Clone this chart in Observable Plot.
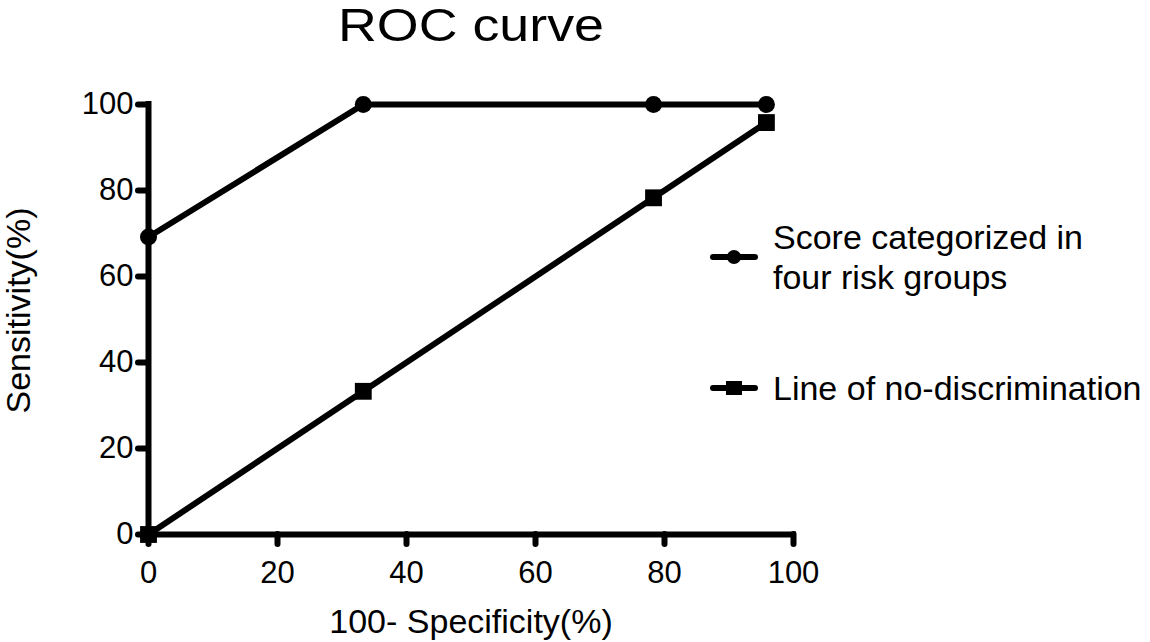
<!DOCTYPE html>
<html>
<head>
<meta charset="utf-8">
<script src="https://cdn.jsdelivr.net/npm/d3@7"></script>
<script src="https://cdn.jsdelivr.net/npm/@observablehq/plot@0.6"></script>
<style>
  body { margin: 0; background: #fff; }
  #chart { width: 1150px; height: 642px; }
</style>
</head>
<body>
<div id="chart"></div>
<script>
// ---- data ----
const oneMinusSpecificity = [0, 33.3, 78.3, 95.8];   // 100 - Specificity (%)
const rocSensitivity = [69.2, 100, 100, 100];         // Score categorized in four risk groups
const diagonalSensitivity = [0, 33.3, 78.3, 95.8];    // Line of no-discrimination
const xTicks = [0, 20, 40, 60, 80, 100];
const yTicks = [0, 20, 40, 60, 80, 100];
const seriesNames = [["Score categorized in", "four risk groups"], ["Line of no-discrimination"]];
const seriesSymbols = ["circle", "square"];
const titleText = "ROC curve";
const xLabelText = "100- Specificity(%)";
const yLabelText = "Sensitivity(%)";

// ---- tables ----
const roc = oneMinusSpecificity.map((x, i) => ({x, y: rocSensitivity[i]}));
const diag = oneMinusSpecificity.map((x, i) => ({x, y: diagonalSensitivity[i]}));

const font = "'Liberation Sans', Arial, Helvetica, sans-serif";

const plot = Plot.plot({
  width: 1150,
  height: 642,
  marginLeft: 148,
  marginRight: 357,
  marginTop: 104,
  marginBottom: 108,
  x: {domain: [0, 100]},
  y: {domain: [0, 100]},
  style: {fontFamily: font, background: "white", color: "black"},
  marks: [
    Plot.axisX({ticks: xTicks, tickSize: 10, tickPadding: 16, fontSize: 31, strokeWidth: 6,
                strokeLinecap: "round", label: null, tickFormat: d => String(d)}),
    Plot.axisY({ticks: yTicks, tickSize: 10, tickPadding: 5, fontSize: 31, strokeWidth: 6,
                strokeLinecap: "round", label: null, tickFormat: d => String(d)}),
    Plot.ruleX([0], {strokeWidth: 6, strokeLinecap: "square"}),
    Plot.ruleY([0], {strokeWidth: 6, strokeLinecap: "square"}),
    Plot.line(diag, {x: "x", y: "y", stroke: "black", strokeWidth: 6}),
    Plot.line(roc, {x: "x", y: "y", stroke: "black", strokeWidth: 6}),
    Plot.dot(roc, {x: "x", y: "y", r: 8.5, fill: "black", symbol: "circle"}),
    Plot.dot(diag, {x: "x", y: "y", r: 9.5, fill: "black", symbol: "square"}),
    Plot.text([titleText], {frameAnchor: "top", dy: -78, fontSize: 46, lineAnchor: "middle",
                            textAnchor: "middle", fill: "black", className: "chart-title"}),
    Plot.text([xLabelText], {frameAnchor: "bottom", dy: 88, fontSize: 34, lineAnchor: "middle",
                             textAnchor: "middle", fill: "black"}),
    Plot.text([yLabelText], {frameAnchor: "left", dx: -129, dy: -9, rotate: -90, fontSize: 34,
                             lineAnchor: "middle", textAnchor: "middle", fill: "black"})
  ]
});

// widen the title to the reference's proportions
d3.select(plot).selectAll("g.chart-title text")
  .attr("textLength", 266).attr("lengthAdjust", "spacingAndGlyphs");

// ---- legend ----
const svg = d3.select(plot);
const legendX0 = 713, legendX1 = 755, legendTextX = 773;
const legendYs = [257, 388];
const lg = svg.append("g").attr("font-family", font).attr("font-size", 34)
  .attr("fill", "black").attr("text-anchor", "start");
seriesNames.forEach((lines, i) => {
  const cy = legendYs[i];
  const cx = (legendX0 + legendX1) / 2;
  lg.append("line").attr("x1", legendX0).attr("x2", legendX1).attr("y1", cy).attr("y2", cy)
    .attr("stroke", "black").attr("stroke-width", 6).attr("stroke-linecap", "round");
  if (seriesSymbols[i] === "circle") {
    lg.append("circle").attr("cx", cx).attr("cy", cy).attr("r", 7).attr("fill", "black");
  } else {
    lg.append("rect").attr("x", cx - 8).attr("y", cy - 7).attr("width", 16).attr("height", 14).attr("fill", "black");
  }
  const n = lines.length;
  lines.forEach((t, j) => {
    lg.append("text").attr("x", legendTextX).attr("y", cy + 12 + (j - (n - 1) / 2) * 40).text(t);
  });
});

document.getElementById("chart").appendChild(plot);
</script>
</body>
</html>
